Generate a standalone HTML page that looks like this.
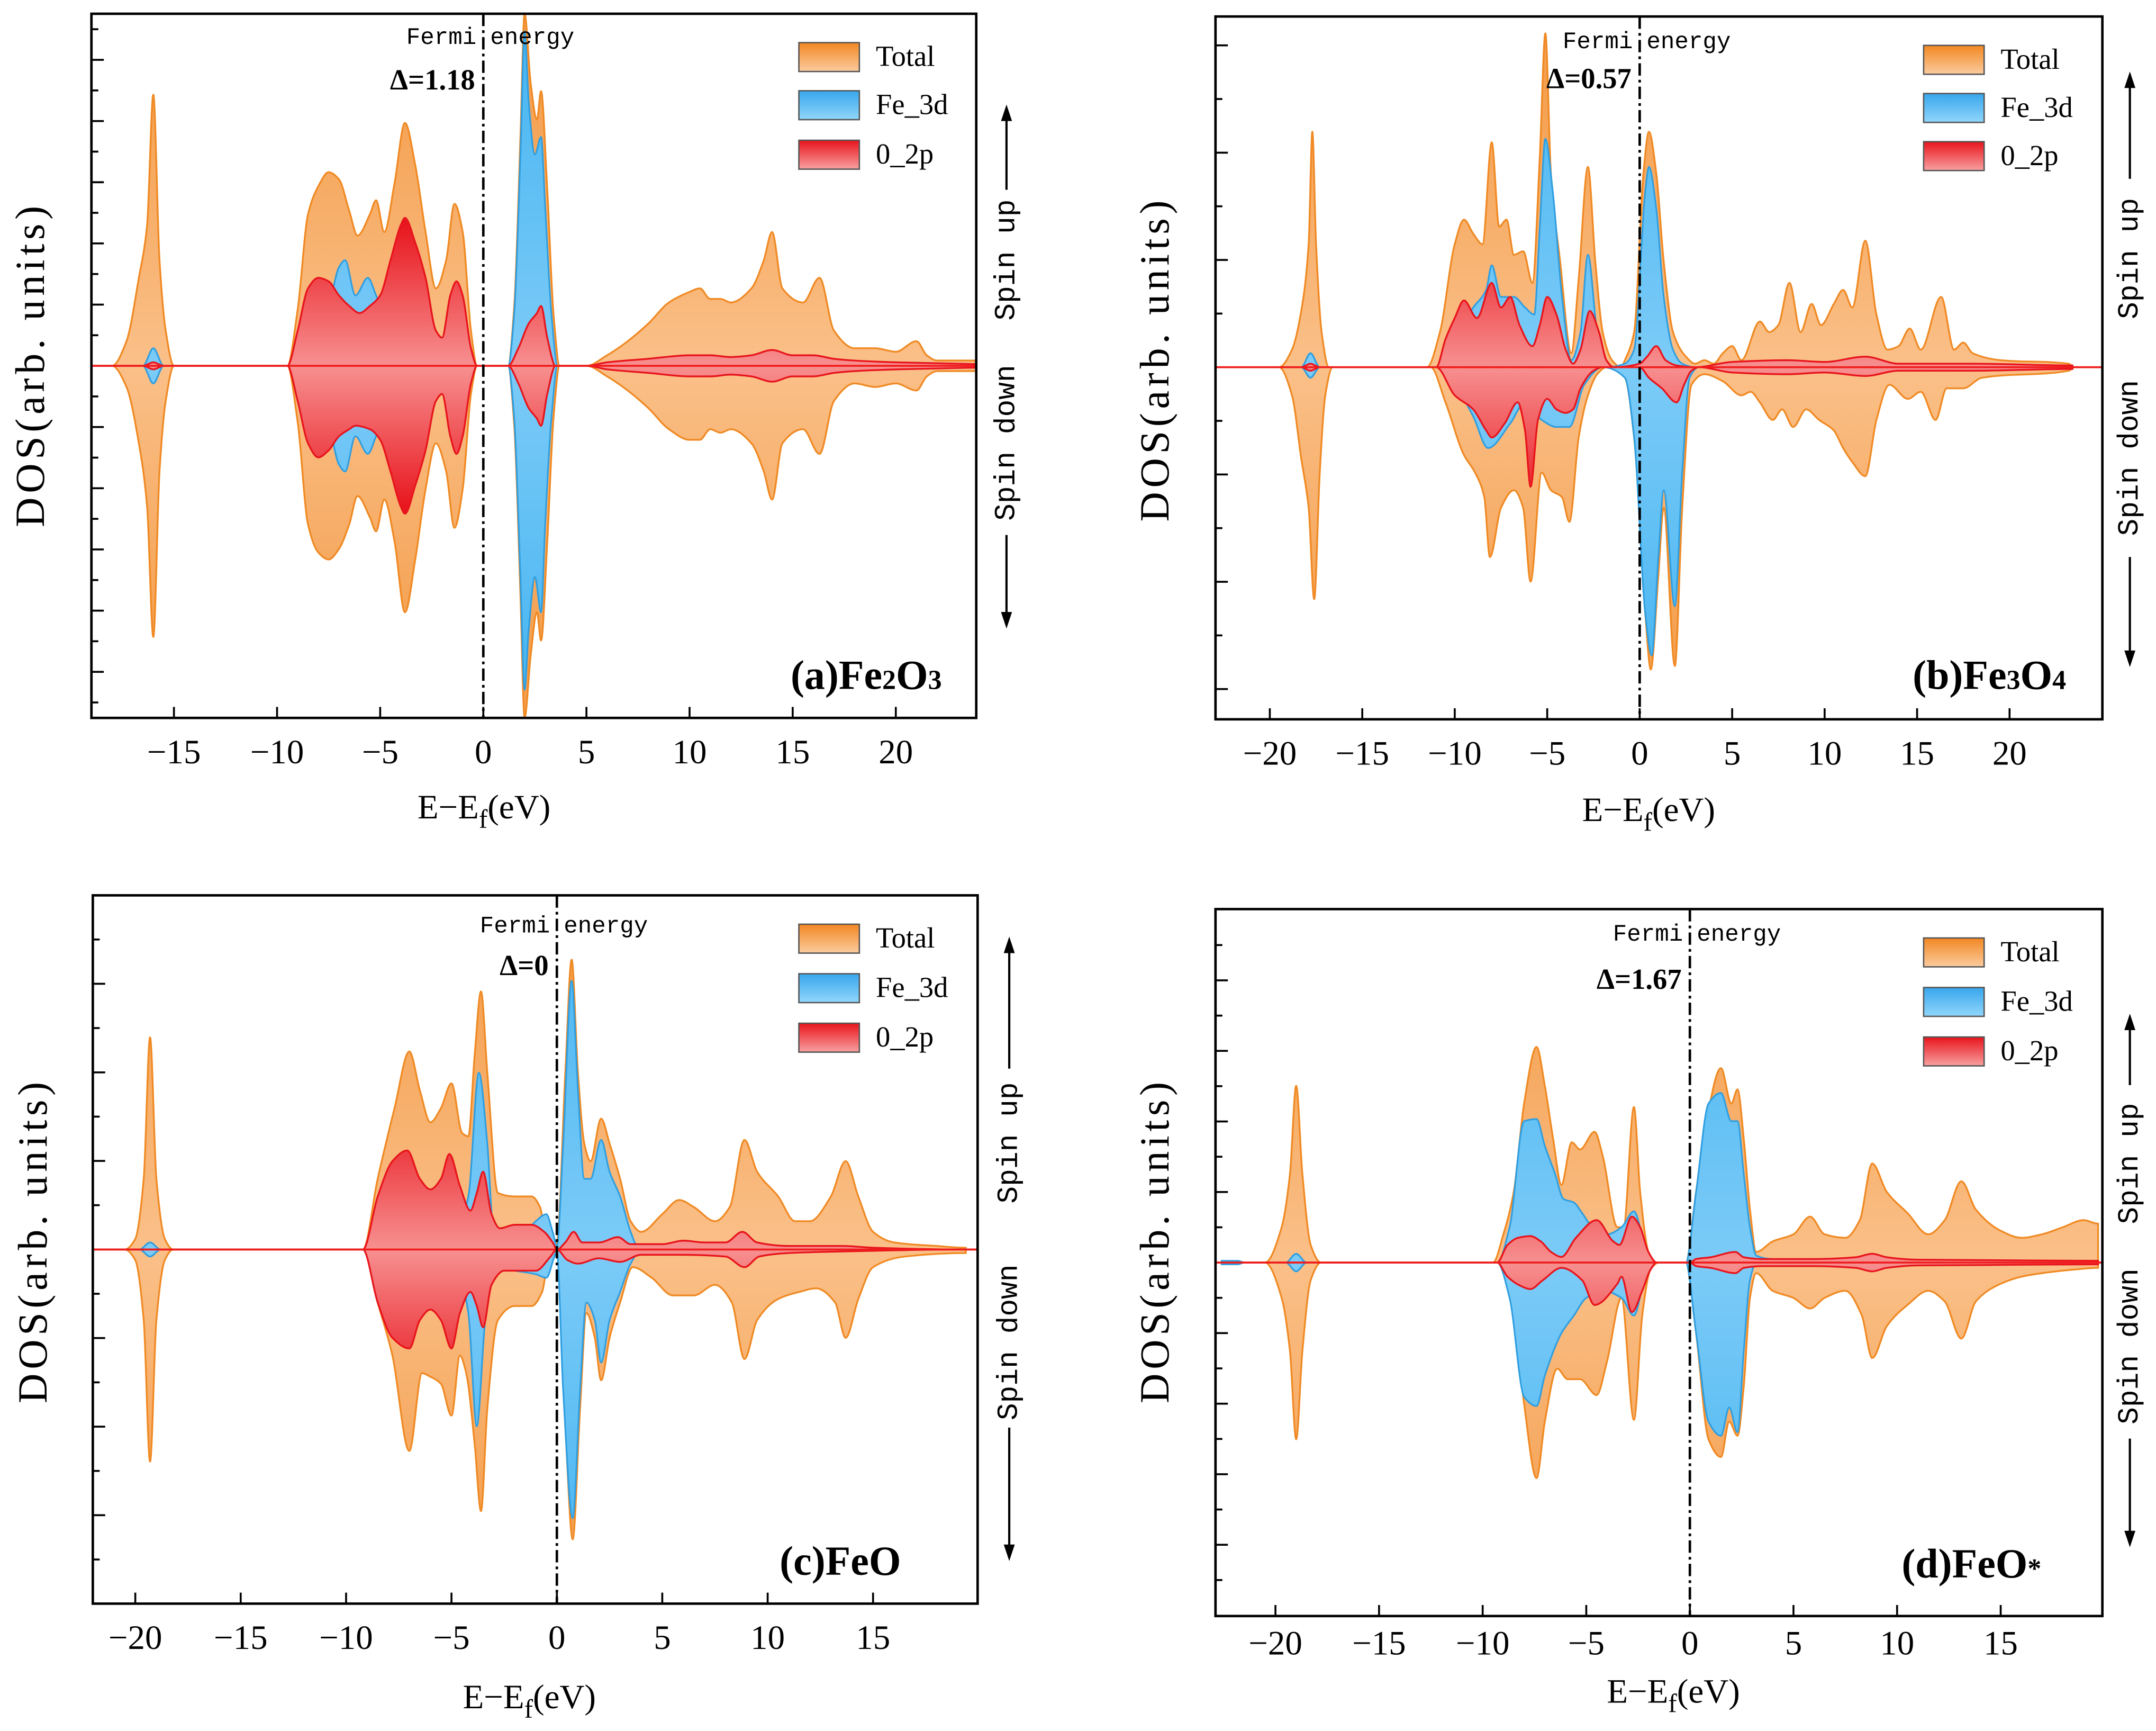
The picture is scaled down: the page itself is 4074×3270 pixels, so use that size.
<!DOCTYPE html>
<html><head><meta charset="utf-8"><title>DOS charts</title>
<style>
html,body{margin:0;padding:0;background:#fff;}
svg{display:block;}
.tick{font-family:"Liberation Serif",serif;font-size:25px;fill:#000;}
.mono{font-family:"Liberation Mono","Noto Sans CJK SC",monospace;fill:#000;}
.serif{font-family:"Liberation Serif",serif;fill:#000;}
</style></head>
<body>
<svg id="chart" xmlns="http://www.w3.org/2000/svg" width="4074" height="3270" viewBox="0 0 1568 1258.6" preserveAspectRatio="none">
<defs>
<linearGradient id="lgTotal" x1="0" y1="0" x2="0" y2="1"><stop offset="0" stop-color="#F28722"/><stop offset="1" stop-color="#FBCB9E"/></linearGradient>
<linearGradient id="lgFe" x1="0" y1="0" x2="0" y2="1"><stop offset="0" stop-color="#38A6EC"/><stop offset="1" stop-color="#90D6FB"/></linearGradient>
<linearGradient id="lgO" x1="0" y1="0" x2="0" y2="1"><stop offset="0" stop-color="#E8141C"/><stop offset="1" stop-color="#F8A0A0"/></linearGradient>
</defs>
<g id="layer"></g>
</svg>
<script>
// ---------- Panel (a) Fe2O3 data: [energy eV, DOS % of half-axis] ----------
const fe2o3TotalUp=[[-18,0],[-17.3,7],[-16.7,25],[-16.3,40],[-16,77],[-15.7,30],[-15.4,10],[-15,0],[-9.5,0],[-9,16],[-8.5,43],[-8,51],[-7.5,55],[-7,53],[-6.5,44],[-6.1,37],[-5.5,43],[-5.2,47],[-4.8,38],[-4.3,52],[-3.8,69],[-3.3,57],[-2.8,38],[-2.3,22],[-1.8,30],[-1.4,46],[-1.0,38],[-0.6,10],[-0.3,0],[1.2,0],[1.5,17],[1.8,65],[2.0,100],[2.3,80],[2.6,70],[2.8,78],[3.1,50],[3.4,15],[3.7,0],[5,0],[6,3],[7,7],[8,12],[9,18],[10,21],[10.5,22],[11,19],[11.5,19],[12,18],[13,22],[13.6,30],[14,38],[14.5,22],[15.5,18],[16.3,25],[17,10],[18,5],[19,5],[20,4],[21,7],[21.5,3],[22,1.5],[23.9,1.5]];
const fe2o3TotalDown=[[-18,0],[-17.3,6],[-16.7,22],[-16.3,40],[-16,77],[-15.7,30],[-15.4,10],[-15,0],[-9.5,0],[-9,16],[-8.5,45],[-8,53],[-7.5,55],[-7,52],[-6.5,45],[-6.1,37],[-5.5,43],[-5.2,47],[-4.8,38],[-4.3,50],[-3.8,70],[-3.3,55],[-2.8,35],[-2.3,22],[-1.8,30],[-1.4,46],[-1.0,35],[-0.6,8],[-0.3,0],[1.2,0],[1.5,17],[1.8,65],[2.0,100],[2.3,82],[2.6,70],[2.8,78],[3.1,50],[3.4,15],[3.7,0],[5,0],[6,3],[7,7],[8,12],[9,18],[10,21],[10.5,21],[11,18],[11.5,19],[12,18],[13,22],[13.6,30],[14,38],[14.5,22],[15.5,18],[16.3,25],[17,10],[18,5],[19,6],[20,5],[21,7],[21.5,3],[22,1.5],[23.9,1.5]];
const fe2o3FeUp=[[-16.5,0],[-16,5],[-15.5,0],[-9.4,0],[-8.5,15],[-7.5,18],[-7,28],[-6.7,30],[-6.2,20],[-5.6,25],[-5.2,20],[-4.5,10],[-3,8],[-1.5,8],[-0.3,0],[1.2,0],[1.5,15],[1.8,60],[2.0,95],[2.2,75],[2.5,60],[2.8,65],[3.0,45],[3.3,15],[3.6,0],[5,0],[8,1],[14,2],[20,1],[23.9,0.5]];
const fe2o3FeDown=[[-16.5,0],[-16,5],[-15.5,0],[-9.4,0],[-8.5,15],[-7.5,18],[-7,28],[-6.7,30],[-6.2,20],[-5.6,25],[-5.2,20],[-4.5,10],[-3,8],[-1.5,8],[-0.3,0],[1.2,0],[1.5,15],[1.8,60],[2.0,92],[2.2,75],[2.5,60],[2.8,70],[3.0,45],[3.3,15],[3.6,0],[5,0],[8,1],[14,2],[20,1],[23.9,0.5]];
const fe2o3OUp=[[-16.5,0],[-16,1],[-15.5,0],[-9.5,0],[-9,10],[-8.5,22],[-8,25],[-7.5,24],[-7,20],[-6.5,17],[-6,15],[-5.5,17],[-5,20],[-4.5,30],[-4,40],[-3.8,42],[-3.3,35],[-2.8,25],[-2.3,10],[-2.0,8],[-1.6,20],[-1.3,24],[-1.0,20],[-0.6,5],[-0.3,0],[1.2,0],[1.7,5],[2.2,12],[2.6,15],[2.8,17],[3.1,8],[3.5,0],[5,0],[6,1],[8,2],[10,3],[11,3],[12,2.5],[13,3],[14,4.5],[15,3],[16,3],[17,2],[18,1.5],[20,1],[23.9,0.5]];
const fe2o3ODown=[[-16.5,0],[-16,1],[-15.5,0],[-9.5,0],[-9,10],[-8.5,22],[-8,26],[-7.5,24],[-7,20],[-6.5,18],[-6.2,17],[-5.5,18],[-5,21],[-4.5,30],[-4,40],[-3.8,42],[-3.3,34],[-2.8,24],[-2.3,10],[-2.0,8],[-1.6,20],[-1.3,25],[-1.0,20],[-0.6,5],[-0.3,0],[1.2,0],[1.7,5],[2.2,12],[2.6,15],[2.8,17],[3.1,8],[3.5,0],[5,0],[6,1],[8,2],[10,3],[11,3],[12,2.5],[13,3],[14,4.5],[15,3],[16,3],[17,2],[18,1.5],[20,1],[23.9,0.5]];
const fe2o3Ticks=[-15,-10,-5,0,5,10,15,20];

// ---------- Panel (b) Fe3O4 ----------
const fe3o4TotalUp=[[-19.5,0],[-18.8,5],[-18.3,16],[-17.9,35],[-17.7,67],[-17.5,35],[-17.2,10],[-16.8,0],[-11.5,0],[-10.8,10],[-10,35],[-9.5,42],[-9,38],[-8.5,35],[-8,64],[-7.6,40],[-7.2,42],[-6.8,32],[-6.3,33],[-5.8,24],[-5.4,60],[-5.1,95],[-4.8,55],[-4.3,30],[-3.7,4],[-3.3,25],[-2.8,57],[-2.4,30],[-2,10],[-1.5,2],[-1.0,0],[-0.8,2],[-0.3,10],[0.2,55],[0.5,67],[0.9,55],[1.3,30],[1.8,10],[2.5,3],[3,1],[3.5,2],[4,1],[4.5,4],[5,6],[5.5,2],[6.5,13],[7,10],[7.5,12],[8.1,24],[8.7,10],[9.3,18],[9.8,12],[10.5,18],[11,22],[11.5,17],[12.2,36],[12.8,15],[13.4,5],[14,6],[14.6,11],[15.2,5],[16.3,20],[17,5],[17.5,7],[18,4],[19.5,2],[23.2,1],[23.5,0]];
const fe3o4TotalDown=[[-19.5,0],[-18.8,8],[-18.3,26],[-17.9,40],[-17.6,66],[-17.3,30],[-17,8],[-16.6,0],[-11.3,0],[-10.5,10],[-9.5,25],[-8.9,30],[-8.4,37],[-8.1,54],[-7.5,40],[-6.8,35],[-6.3,40],[-5.9,61],[-5.3,30],[-4.8,35],[-4.2,37],[-3.8,44],[-3.3,20],[-2.8,8],[-2.3,2],[-1.8,0],[-0.8,3],[-0.3,20],[0.3,70],[0.6,86],[1.0,60],[1.3,40],[1.9,85],[2.3,40],[2.8,5],[3.5,2],[4.5,4],[5.5,8],[6,7],[6.5,10],[7.2,15],[7.7,12],[8.3,17],[9,12],[9.7,15],[10.5,18],[11,23],[11.5,27],[12.2,31],[12.8,15],[13.5,5],[14.5,9],[15.2,7],[16,15],[16.6,6],[17.5,6],[18.5,3],[23.2,1],[23.5,0]];
const fe3o4FeUp=[[-18.3,0],[-17.8,4],[-17.3,0],[-11,0],[-10,8],[-9,17],[-8.3,22],[-8,29],[-7.5,20],[-6.8,20],[-6.2,17],[-5.7,15],[-5.4,40],[-5.1,65],[-4.7,50],[-4.2,20],[-3.7,2],[-3.2,10],[-2.8,32],[-2.3,10],[-1.8,0],[-0.8,1],[-0.3,5],[0.3,50],[0.5,57],[0.9,45],[1.3,20],[1.8,5],[2.3,1],[3,0]];
const fe3o4FeDown=[[-18.3,0],[-17.8,3],[-17.3,0],[-11,0],[-10,5],[-9,14],[-8.2,23],[-7,16],[-6.2,10],[-5.3,15],[-4.5,17],[-3.8,17],[-3,5],[-2,0],[-0.8,3],[-0.3,20],[0.3,70],[0.65,82],[1.0,55],[1.3,35],[1.9,68],[2.3,30],[2.7,3],[3.2,0]];
const fe3o4OUp=[[-18.3,0],[-17.8,1],[-17.3,0],[-11,0],[-10.5,8],[-10,14],[-9.5,19],[-8.8,14],[-8,24],[-7.5,17],[-7,20],[-6.5,12],[-5.8,6],[-5.4,12],[-5.0,20],[-4.5,15],[-4,5],[-3.6,1],[-3.2,5],[-2.7,16],[-2.2,10],[-1.8,2],[-1.4,0],[0,1],[0.4,3],[0.9,6],[1.4,2],[2,0.5],[3,0],[5,1.5],[8,2],[10,1.5],[12.2,3],[14,1],[18,1],[23.4,0.5]];
const fe3o4ODown=[[-18.3,0],[-17.8,1],[-17.3,0],[-11,0],[-10,8],[-9,12],[-8.3,18],[-8,20],[-7.3,16],[-6.6,10],[-6.2,18],[-5.9,34],[-5.5,15],[-5,9],[-4.5,12],[-4,13],[-3.6,12],[-3.2,6],[-2.5,1],[-2,0],[0,0],[0.5,3],[1.2,6],[2.0,10],[2.4,5],[2.8,1],[3.2,0],[5,1.5],[8,2],[10,1.5],[12.2,2.5],[14,1],[18,1],[23.4,0.5]];
const fe3o4Ticks=[-20,-15,-10,-5,0,5,10,15,20];

// ---------- Panel (c) FeO ----------
const feoTotalUp=[[-20.5,0],[-20,3],[-19.6,20],[-19.3,60],[-19.0,20],[-18.6,3],[-18.2,0],[-9.2,0],[-8.5,20],[-7.7,40],[-7,56],[-6.5,45],[-6,36],[-5.5,40],[-5,47],[-4.5,33],[-4.2,32],[-3.9,55],[-3.6,73],[-3.3,50],[-2.8,16],[-2,15],[-1.2,15],[-0.8,12],[-0.5,3],[-0.2,1],[0,2],[0.4,50],[0.7,82],[1.0,50],[1.3,30],[1.6,25],[2.1,37],[2.5,30],[3,20],[3.5,8],[4,5],[5,10],[5.8,14],[6.5,12],[7.5,8],[8.2,12],[8.9,31],[9.5,22],[10.5,15],[11.3,8],[12,8],[13,15],[13.7,25],[14.3,15],[15,5],[16,2],[18,1],[19.4,0.5]];
const feoTotalDown=[[-20.5,0],[-20,3],[-19.6,20],[-19.3,60],[-19.0,20],[-18.6,3],[-18.2,0],[-9.2,0],[-8.5,15],[-7.8,30],[-7,57],[-6.4,35],[-6,36],[-5.5,38],[-5,47],[-4.6,30],[-4.3,35],[-3.9,55],[-3.6,74],[-3.3,45],[-2.8,20],[-2,16],[-1.2,16],[-0.7,12],[-0.4,3],[0,1],[0.4,50],[0.75,82],[1.1,45],[1.4,18],[1.8,25],[2.1,37],[2.5,25],[3,15],[3.6,5],[4.5,8],[5.5,13],[6.5,13],[7.5,10],[8.3,15],[8.9,31],[9.5,20],[10.5,14],[11.5,12],[12.3,11],[13.2,15],[13.7,25],[14.3,14],[15,5],[16.5,2],[19.4,1]];
const feoFeUp=[[-19.8,0],[-19.3,2],[-18.8,0],[-9,0],[-8,5],[-6,8],[-4.6,8],[-4.2,15],[-3.7,50],[-3.3,30],[-3,5],[-2.5,4],[-1.5,5],[-1,8],[-0.5,10],[-0.2,5],[0,1],[0.3,30],[0.7,76],[1.0,45],[1.3,20],[1.6,20],[2.1,31],[2.5,22],[3,15],[3.5,5],[3.8,1],[4.2,0]];
const feoFeDown=[[-19.8,0],[-19.3,2],[-18.8,0],[-9,0],[-8,5],[-6,8],[-4.6,8],[-4.2,18],[-3.8,50],[-3.4,20],[-3,5],[-2,6],[-1,7],[-0.5,8],[0,1],[0.3,40],[0.75,76],[1.1,40],[1.4,15],[1.8,20],[2.1,32],[2.5,20],[3,12],[3.5,4],[4,0]];
const feoOUp=[[-9.2,0],[-8.5,15],[-7.8,25],[-7.1,28],[-6.5,20],[-6,17],[-5.5,20],[-5.1,27],[-4.6,18],[-4.1,11],[-3.8,16],[-3.5,22],[-3.1,10],[-2.7,6],[-2,7],[-1.2,7],[-0.6,5],[-0.2,2],[0,0],[0.4,2],[0.8,5],[1.2,2],[2,2],[2.9,3.5],[3.5,1.5],[5,1.5],[6,2.5],[7,2],[8,2],[8.8,5],[9.5,2],[11,1],[13.5,1],[15,0.5],[19,0]];
const feoODown=[[-9.2,0],[-8.5,15],[-7.8,25],[-7,28],[-6.5,20],[-6,17],[-5.5,20],[-5,28],[-4.6,18],[-4.1,12],[-3.8,16],[-3.5,22],[-3.1,10],[-2.5,6],[-1,6],[-0.3,2],[0,0],[0.5,3],[1,4],[2,2.5],[3,3.5],[4,1.5],[6,1.5],[8,2],[8.9,5],[9.6,2],[11,1],[14,0.5],[19,0]];
const feoTicks=[-20,-15,-10,-5,0,5,10,15];

// ---------- Panel (d) FeO* ----------
const feosTotalUp=[[-20.5,0],[-19.7,10],[-19.3,25],[-19,50],[-18.7,25],[-18.3,5],[-17.8,0],[-9.5,0],[-9.0,8],[-8.5,20],[-8,45],[-7.4,61],[-7,50],[-6.6,35],[-6.2,22],[-5.7,34],[-5.3,32],[-4.6,37],[-4.2,30],[-3.5,10],[-3.2,10],[-2.7,44],[-2.4,20],[-2,3],[-1.7,0],[-0.2,0],[0.3,20],[0.8,40],[1.5,55],[2.0,45],[2.3,49],[2.6,35],[2.9,15],[3.2,3],[4,6],[5,8],[5.8,13],[6.5,8],[7.5,7],[8.2,12],[8.8,28],[9.5,20],[10.5,14],[11.5,8],[12.3,12],[13.1,23],[13.8,15],[15,9],[16,7],[17,8],[18,10],[19,12],[19.7,11]];
const feosTotalDown=[[-20.5,0],[-19.7,10],[-19.3,25],[-19,50],[-18.7,25],[-18.3,5],[-17.8,0],[-9.3,0],[-8.5,15],[-8,40],[-7.4,61],[-7,45],[-6.4,30],[-5.9,33],[-5.3,33],[-4.5,37.5],[-4,28],[-3.3,10],[-2.7,44.5],[-2.3,15],[-1.9,2],[-1.5,0],[-0.2,0],[0.3,20],[0.9,50],[1.5,55],[1.9,45],[2.3,49],[2.6,35],[2.9,10],[3.2,3],[4,8],[5,10],[5.8,13],[6.5,10],[7.5,8],[8.3,15],[8.8,27],[9.5,18],[10.5,12],[11.5,8],[12.3,11],[13.1,21.5],[13.8,11],[15,6],[16,4],[17,3],[18.5,2],[19.7,1.5]];
const feosFeUp=[[-22.6,0.5],[-21.8,0.5],[-21.5,0],[-19.5,0],[-19,2.5],[-18.5,0],[-9.3,0],[-8.7,10],[-8,40],[-7.4,40.6],[-7,33],[-6.5,25],[-6.1,18],[-5.6,17],[-5.2,14],[-4.7,10],[-4,8],[-3.3,10],[-2.7,14.5],[-2.3,8],[-1.9,1],[-1.6,0],[-0.2,0],[0.3,20],[0.9,45],[1.5,48],[2.0,40],[2.3,40],[2.6,25],[2.9,10],[3.2,2],[4,1],[11,0.5],[11.5,0]];
const feosFeDown=[[-22.6,0.5],[-21.8,0.5],[-21.5,0],[-19.5,0],[-19,2.5],[-18.5,0],[-9.3,0],[-8.7,10],[-8,38],[-7.4,40.6],[-7,32],[-6.2,20],[-5.6,15],[-5,10],[-4.2,8],[-3.3,10],[-2.7,15],[-2.2,5],[-1.8,0],[-0.2,0],[0.3,20],[0.9,45],[1.5,49],[1.9,41],[2.3,48],[2.6,25],[2.9,5],[3.2,0]];
const feosOUp=[[-9.3,0],[-8.8,5],[-8.3,7],[-7.7,7.5],[-7.2,6],[-6.7,3],[-6.2,1.6],[-5.5,7],[-4.5,12],[-3.7,6],[-3.4,5],[-2.8,13],[-2.4,10],[-2,3],[-1.6,0],[0,0],[0.3,1],[1,1.5],[2.2,3],[2.6,1.5],[3.5,1],[5,1],[6,1],[8,1.5],[8.8,2.5],[9.5,1.5],[11,0.8],[14,0.7],[19.7,0.5]];
const feosODown=[[-9.3,0],[-8.8,4],[-8.2,6.5],[-7.7,7.5],[-7.1,5],[-6.2,1.5],[-5.2,5],[-4.6,12],[-3.5,6],[-3.3,4],[-2.8,14],[-2.3,8],[-1.9,2],[-1.6,0],[0,0],[0.3,1],[1,1.5],[2.2,3],[2.6,1.5],[3.5,1],[5,1],[6,1],[8,1.5],[8.8,2.5],[9.5,1.5],[11,0.8],[14,0.7],[19.7,0.5]];
const feosTicks=[-20,-15,-10,-5,0,5,10,15];

const NS="http://www.w3.org/2000/svg";
const layer=document.getElementById('layer');
function mk(tag,attrs,parent){const e=document.createElementNS(NS,tag);for(const k in attrs)e.setAttribute(k,attrs[k]);(parent||layer).appendChild(e);return e;}

function monoSegs(p){
  const n=p.length;const segs=[];if(n<2)return segs;
  const m=[];for(let i=0;i<n-1;i++){const dx=p[i+1][0]-p[i][0];m.push(dx===0?0:(p[i+1][1]-p[i][1])/dx);}
  const t=[m[0]];
  for(let i=1;i<n-1;i++){const d0=p[i][0]-p[i-1][0],d1=p[i+1][0]-p[i][0];
    if(m[i-1]*m[i]<=0)t.push(0);else t.push(3*(d0+d1)/((2*d1+d0)/m[i-1]+(d1+2*d0)/m[i]));}
  t.push(m[n-2]);
  for(let i=0;i<n-1;i++){const dx=(p[i+1][0]-p[i][0])/3;
    segs.push([p[i],[p[i][0]+dx,p[i][1]+t[i]*dx],[p[i+1][0]-dx,p[i+1][1]-t[i+1]*dx],p[i+1]]);}
  return segs;
}
const f=v=>v.toFixed(2);

function areaPath(P,up,down){
  const xs=v=>P.x0+v*P.sx;
  const yUp=v=>P.zero-v/100*P.half;
  const yDn=v=>P.zero+v/100*P.half;
  function full(arr,ym){const pts=arr.map(d=>[xs(d[0]),ym(d[1])]);
    if(pts[0][0]>P.left)pts.unshift([P.left,P.zero],[pts[0][0],P.zero]);
    const l=pts[pts.length-1];if(l[0]<P.right)pts.push([l[0],P.zero],[P.right,P.zero]);
    return pts.map(q=>[Math.max(P.left,Math.min(P.right,q[0])),q[1]]);}
  const su=monoSegs(full(up,yUp));const sd=monoSegs(full(down,yDn));
  let d='M'+f(su[0][0][0])+' '+f(su[0][0][1]);
  su.forEach(s=>{d+='C'+f(s[1][0])+' '+f(s[1][1])+' '+f(s[2][0])+' '+f(s[2][1])+' '+f(s[3][0])+' '+f(s[3][1]);});
  const ls=sd[sd.length-1];d+='L'+f(ls[3][0])+' '+f(ls[3][1]);
  for(let i=sd.length-1;i>=0;i--){const s=sd[i];d+='C'+f(s[2][0])+' '+f(s[2][1])+' '+f(s[1][0])+' '+f(s[1][1])+' '+f(s[0][0])+' '+f(s[0][1]);}
  return d+'Z';
}

const panels=[
 {id:'a',left:66.5,right:710,top:10,bottom:522,zero:266,half:256,x0:351.5,sx:15.0,major:44.5,ticks:fe2o3Ticks,
  tot:[fe2o3TotalUp,fe2o3TotalDown],fe:[fe2o3FeUp,fe2o3FeDown],o:[fe2o3OUp,fe2o3ODown],
  legX:581,legY:[31,66,102],fermiY:32,deltaY:65,delta:'Δ=1.18',name:['(a)Fe','2','O','3'],nameX:575,nameY:501,
  tickY:555,xlabX:352,xlabY:595,ylabX:25,ylabY:265,spinX:732,spinUpY:189,upArrow:[138,76],spinDnY:322,dnArrow:[389,457]},
 {id:'b',left:884,right:1529,top:12,bottom:523,zero:267,half:255.5,x0:1192.5,sx:13.45,major:78,ticks:fe3o4Ticks,
  tot:[fe3o4TotalUp,fe3o4TotalDown],fe:[fe3o4FeUp,fe3o4FeDown],o:[fe3o4OUp,fe3o4ODown],
  legX:1399,legY:[33,68,103],fermiY:35,deltaY:64,delta:'Δ=0.57',name:['(b)Fe','3','O','4'],nameX:1391,nameY:501,
  tickY:556,xlabX:1199,xlabY:597,ylabX:843,ylabY:261,spinX:1549,spinUpY:188,upArrow:[130,52],spinDnY:333,dnArrow:[405,485]},
 {id:'c',left:67.5,right:711,top:651,bottom:1166,zero:908.5,half:257,x0:405,sx:15.33,major:64.4,ticks:feoTicks,
  tot:[feoTotalUp,feoTotalDown],fe:[feoFeUp,feoFeDown],o:[feoOUp,feoODown],
  legX:581,legY:[672,708,744],fermiY:678,deltaY:709,delta:'Δ=0',name:['(c)FeO'],nameX:567,nameY:1145,
  tickY:1199,xlabX:385,xlabY:1242,ylabX:27,ylabY:902,spinX:734,spinUpY:831,upArrow:[777,681],spinDnY:976,dnArrow:[1038,1135]},
 {id:'d',left:884,right:1529,top:661,bottom:1175,zero:918,half:257,x0:1229,sx:15.07,major:51.3,ticks:feosTicks,
  tot:[feosTotalUp,feosTotalDown],fe:[feosFeUp,feosFeDown],o:[feosOUp,feosODown],
  legX:1399,legY:[682,718,754],fermiY:684,deltaY:719,delta:'Δ=1.67',name:['(d)FeO','*'],nameX:1383,nameY:1147,
  tickY:1203,xlabX:1217,xlabY:1238,ylabX:843,ylabY:902,spinX:1549,spinUpY:846,upArrow:[789,737],spinDnY:979,dnArrow:[1046,1125]}
];

const defs=document.querySelector('defs');
panels.forEach(P=>{
  const g=mk('g',{});
  
  
  const gt=mk('linearGradient',{id:'gt'+P.id,gradientUnits:'userSpaceOnUse',x1:0,x2:0,y1:P.zero-P.half*0.8,y2:P.zero+P.half*0.8},defs);
  [['0','#F4A050'],['0.5','#FAC089'],['1','#F4A050']].forEach(s=>mk('stop',{offset:s[0],'stop-color':s[1]},gt));
  const gf=mk('linearGradient',{id:'gf'+P.id,gradientUnits:'userSpaceOnUse',x1:0,x2:0,y1:P.zero-P.half*0.8,y2:P.zero+P.half*0.8},defs);
  [['0','#4FB8F2'],['0.5','#7CCBF7'],['1','#4FB8F2']].forEach(s=>mk('stop',{offset:s[0],'stop-color':s[1]},gf));
  const go=mk('linearGradient',{id:'go'+P.id,gradientUnits:'userSpaceOnUse',x1:0,x2:0,y1:P.zero-P.half*0.4,y2:P.zero+P.half*0.4},defs);
  [['0','#E8171F'],['0.5','#F79090'],['1','#E8171F']].forEach(s=>mk('stop',{offset:s[0],'stop-color':s[1]},go));
  const clip=mk('clipPath',{id:'clip'+P.id},defs);
  mk('rect',{x:P.left,y:P.top,width:P.right-P.left,height:P.bottom-P.top},clip);
  const plot=mk('g',{'clip-path':'url(#clip'+P.id+')'},g);
  const t=mk('path',{d:areaPath(P,P.tot[0],P.tot[1]),fill:'url(#gt'+P.id+')',stroke:'#F08A24','stroke-width':1.3},plot);
  
  
  const fe=mk('path',{d:areaPath(P,P.fe[0],P.fe[1]),fill:'url(#gf'+P.id+')',stroke:'#2F9EE0','stroke-width':1.2},plot);
  
  
  const o=mk('path',{d:areaPath(P,P.o[0],P.o[1]),fill:'url(#go'+P.id+')',stroke:'#E8141C','stroke-width':1.3},plot);
  
  
  const zl=mk('line',{x1:P.left,x2:P.right,y1:P.zero,y2:P.zero,stroke:'#F01C1C','stroke-width':1.4},plot);
  
  
  const fl=mk('line',{x1:P.x0,x2:P.x0,y1:P.top,y2:P.bottom,stroke:'#000','stroke-width':1.8,'stroke-dasharray':'9 3 2 3'},g);
  
  
  const fr=mk('rect',{x:P.left,y:P.top,width:P.right-P.left,height:P.bottom-P.top,fill:'none',stroke:'#000','stroke-width':1.8},g);
  
  
  const minor=P.major/2;
  for(let k=-20;k<=20;k++){const y=P.zero+k*minor;if(y<P.top+3||y>P.bottom-3||k===0)continue;
    mk('line',{x1:P.left,x2:P.left+(k%2===0?9:5),y1:y,y2:y,stroke:'#000','stroke-width':1.4},g);}
  P.ticks.forEach(v=>{const x=P.x0+v*P.sx;
    mk('line',{x1:x,x2:x,y1:P.bottom,y2:P.bottom-8,stroke:'#000','stroke-width':1.4},g);
    const tl=mk('text',{x:x,y:P.tickY,'text-anchor':'middle',class:'tick'},g);
    
    
    tl.textContent=(v<0?'−':'')+Math.abs(v);});
  const xl=mk('text',{x:P.xlabX,y:P.xlabY,'text-anchor':'middle',class:'serif','font-size':25},g);
  
  
  xl.innerHTML='E−E<tspan font-size="19" dy="7">f</tspan><tspan dy="-7">(eV)</tspan>';
  const yl=mk('text',{x:P.ylabX,y:P.ylabY,'text-anchor':'middle',class:'serif','font-size':30,'letter-spacing':3,transform:'rotate(-90 '+P.ylabX+' '+P.ylabY+')','dominant-baseline':'middle'},g);
  
  
  yl.textContent='DOS(arb. units)';
  const su=mk('text',{x:P.spinX,y:P.spinUpY,'text-anchor':'middle',class:'mono','font-size':21,transform:'rotate(-90 '+P.spinX+' '+P.spinUpY+')','dominant-baseline':'middle'},g);
  
  
  su.textContent='Spin  up';
  const sdn=mk('text',{x:P.spinX,y:P.spinDnY,'text-anchor':'middle',class:'mono','font-size':21,transform:'rotate(-90 '+P.spinX+' '+P.spinDnY+')','dominant-baseline':'middle'},g);
  
  
  sdn.textContent='Spin  down';
  const ua=P.upArrow,da=P.dnArrow;
  mk('line',{x1:P.spinX,x2:P.spinX,y1:ua[0],y2:ua[1]+8,stroke:'#000','stroke-width':1.6},g);
  mk('path',{d:'M'+(P.spinX-4)+' '+(ua[1]+12)+'L'+P.spinX+' '+ua[1]+'L'+(P.spinX+4)+' '+(ua[1]+12)+'Z',fill:'#000'},g);
  mk('line',{x1:P.spinX,x2:P.spinX,y1:da[0],y2:da[1]-8,stroke:'#000','stroke-width':1.6},g);
  mk('path',{d:'M'+(P.spinX-4)+' '+(da[1]-12)+'L'+P.spinX+' '+da[1]+'L'+(P.spinX+4)+' '+(da[1]-12)+'Z',fill:'#000'},g);
  const ft1=mk('text',{x:P.x0-5,y:P.fermiY,'text-anchor':'end',class:'mono','font-size':17},g);
  
  
  ft1.textContent='Fermi';
  const ft2=mk('text',{x:P.x0+5,y:P.fermiY,'text-anchor':'start',class:'mono','font-size':17},g);
  
  
  ft2.textContent='energy';
  const dl=mk('text',{x:P.x0-6,y:P.deltaY,'text-anchor':'end',class:'serif','font-size':21,'font-weight':'bold'},g);
  
  
  dl.textContent=P.delta;
  const nm=mk('text',{x:P.nameX,y:P.nameY,class:'serif','font-size':30,'font-weight':'bold'},g);
  
  
  nm.innerHTML=P.name.map((s,i)=>i%2===1?'<tspan font-size="20">'+s+'</tspan>':s).join('');
  const labels=['Total','Fe_3d','O_2p'];const fills=['url(#lgTotal)','url(#lgFe)','url(#lgO)'];
  const names=['legend-total','legend-fe-3d','legend-o-2p'];
  labels.forEach((lab,i)=>{
    const lg=mk('g',{},g);
    
    
    mk('rect',{x:P.legX,y:P.legY[i],width:44,height:21,fill:fills[i],stroke:'#555','stroke-width':1},lg);
    const tx=mk('text',{x:P.legX+56,y:P.legY[i]+17,class:'serif','font-size':21},lg);
    tx.textContent=lab==='O_2p'?'0_2p':lab;
  });
});
</script>
</body></html>
